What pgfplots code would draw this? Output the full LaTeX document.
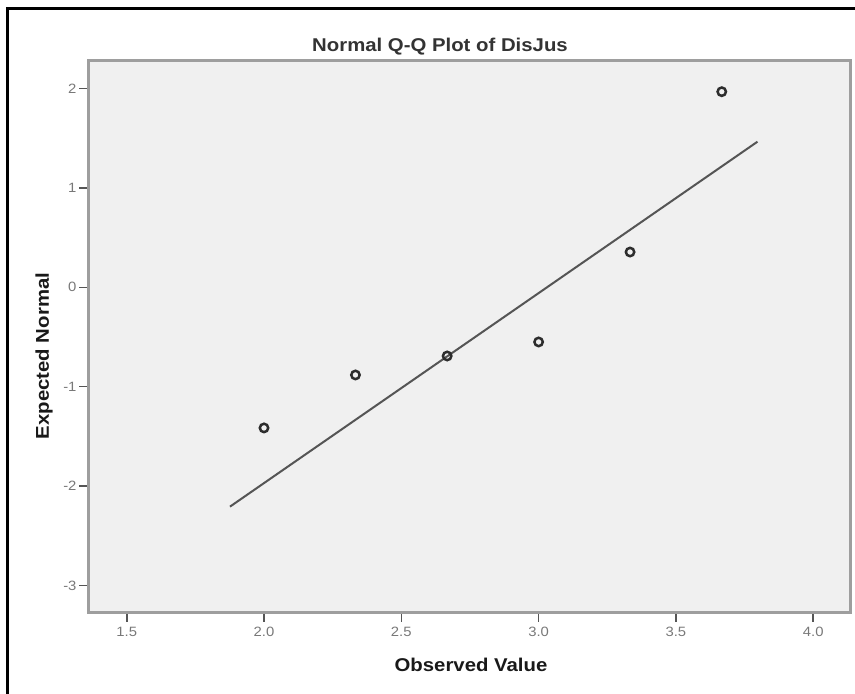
\documentclass[border=0pt]{standalone}
\usepackage{pgfplots}
\pgfplotsset{compat=1.18}
\usepackage{fontspec}
\setmainfont{Liberation Sans}
\newfontfamily\widefont[FakeStretch=1.1]{Liberation Sans}
\definecolor{bg}{RGB}{240,240,240}
\definecolor{frame}{RGB}{158,158,158}
\definecolor{ticklab}{RGB}{120,120,120}
\definecolor{mk}{RGB}{45,45,45}
\definecolor{ln}{RGB}{85,85,85}
\begin{document}
\begin{tikzpicture}[x=1pt,y=1pt]
\begin{axis}[
  at={(88pt,81pt)}, anchor=south west,
  scale only axis, width=762pt, height=552pt,
  xmin=1.359, xmax=4.134, ymin=-3.277, ymax=2.277,
  axis background/.style={fill=bg},
  axis line style={frame, line width=3pt},
  xtick={1.5,2,2.5,3,3.5,4},
  xticklabels={1.5,2.0,2.5,3.0,3.5,4.0},
  ytick={-3,-2,-1,0,1,2},
  yticklabels={-3,-2,-1,0,1,2},
  tick align=outside, tick pos=left,
  major tick length=9pt,
  tick style={ln, line width=1.6pt},
  ticklabel style={font=\widefont\fontsize{13.5}{15}\selectfont, text=ticklab},
  xticklabel style={yshift=-2pt},
  yticklabel style={xshift=1pt},
  clip=false,
]
\addplot[no marks, ln, line width=2pt] coordinates {(1.876,-2.207) (3.797,1.465)};
\addplot[only marks, mark=o, mark size=4.2pt, mark options={mk, line width=2.5pt}] coordinates {
  (2.000,-1.415)
  (2.333,-0.882)
  (2.667,-0.691)
  (3.000,-0.550)
  (3.333,0.355)
  (3.667,1.968)
};
\end{axis}
\node[anchor=base, font=\widefont\bfseries\fontsize{18.5}{20}\selectfont, text=black!80] at (440,642) {Normal Q-Q Plot of DisJus};
\node[anchor=base, font=\widefont\bfseries\fontsize{18.5}{20}\selectfont, text=black!90] at (471,22) {Observed Value};
\node[anchor=base, rotate=90, font=\widefont\bfseries\fontsize{18.5}{20}\selectfont, text=black!90] at (49,338) {Expected Normal};
\draw[black, line width=3pt] (7,-5) -- (7,685) -- (860,685);
\pgfresetboundingbox
\useasboundingbox (0,0) rectangle (855,694);
\end{tikzpicture}
\end{document}
